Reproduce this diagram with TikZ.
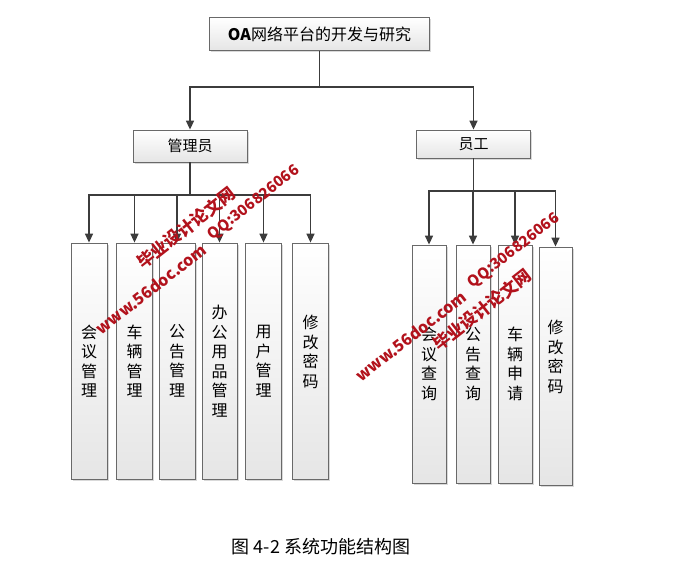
\documentclass[tikz,border=0pt]{standalone}
\usepackage{fontspec}
\setmainfont{Noto Sans CJK SC}
\usetikzlibrary{arrows.meta,positioning,shadows}
\definecolor{linegray}{RGB}{60,60,60}
\definecolor{boxline}{RGB}{105,105,105}
\definecolor{wmred}{RGB}{178,18,28}

\begin{document}
\begin{tikzpicture}[
    x=1pt, y=-1pt,
    box/.style={rectangle, draw=boxline, line width=0.8pt, top color=white, bottom color=gray!20,
        drop shadow={shadow xshift=1.5pt, shadow yshift=-1.5pt, opacity=0.3}, inner sep=0pt},
    headbox/.style={box, minimum width=114pt, font=\fontsize{15}{17}\selectfont},
    colbox/.style={box, minimum width=36pt, minimum height=236pt, text width=17pt, align=center,
        font=\fontsize{16}{19.5}\selectfont},
    line/.style={draw=linegray, line width=1.5pt},
    arrow/.style={line, -{Triangle[width=8pt,length=9pt]}},
    wmtext/.style={text=wmred, font=\bfseries\fontsize{16}{16}\selectfont, rotate=38, inner sep=0pt}
]
\useasboundingbox (0,0) rectangle (675,562);

% top level
\node[box, minimum width=220pt, minimum height=33pt, font=\fontsize{16}{18}\selectfont] (root) at (319.5,34) {\textbf{OA}网络平台的开发与研究};
\node[headbox, minimum height=32pt] (admin) at (190,146) {管理员};
\node[headbox, minimum height=28pt] (staff) at (473.5,144) {员工};

% admin functions
\node[colbox] (a1) at (89,361) {会\\议\\管\\理};
\node[colbox] (a2) at (134.5,361) {车\\辆\\管\\理};
\node[colbox] (a3) at (177,361) {公\\告\\管\\理};
\node[colbox, minimum width=35pt] (a4) at (219.5,361) {办\\公\\用\\品\\管\\理};
\node[colbox] (a5) at (263.5,361) {用\\户\\管\\理};
\node[colbox] (a6) at (310.5,361) {修\\改\\密\\码\\\mbox{}};

% staff functions
\node[colbox, minimum width=34pt, minimum height=238pt] (s1) at (429,364) {会\\议\\查\\询};
\node[colbox, minimum width=34pt, minimum height=238pt] (s2) at (473,364) {公\\告\\查\\询};
\node[colbox, minimum width=34pt, minimum height=238pt] (s3) at (515,364) {车\\辆\\申\\请};
\node[colbox, minimum width=33pt, minimum height=238pt] (s4) at (555.5,366) {修\\改\\密\\码\\\mbox{}};

\coordinate (rootbus) at (319.5,87);
\coordinate (adminbus) at (190,195);
\coordinate (staffbus) at (473.5,191);

\draw[line] (root) -- (rootbus);
\draw[arrow] (rootbus) -| (admin);
\draw[arrow] (rootbus) -| (staff);

\draw[line] (admin) -- (adminbus);
\draw[arrow] (adminbus) -| (a1);
\draw[arrow] (adminbus) -| (a2);
\draw[arrow] (adminbus) -| (a3);
\draw[arrow] (adminbus) -| (a4);
\draw[arrow] (adminbus) -| (a5);
\draw[arrow] (adminbus) -| (a6);

\draw[line] (staff) -- (staffbus);
\draw[arrow] (staffbus) -| (s1);
\draw[arrow] (staffbus) -| (s2);
\draw[arrow] (staffbus) -| (s3);
\draw[arrow] (staffbus) -| (s4);

% watermark
\node[wmtext] (wmurl1) at (151,289) {www.56doc.com};
\node[wmtext, font=\bfseries\fontsize{17}{17}\selectfont] (wmname1) at (186,228) {毕业设计论文网};
\node[wmtext, font=\bfseries\fontsize{15}{15}\selectfont] (wmqq1) at (254,203) {QQ:306826066};
\node[wmtext] (wmurl2) at (411,336) {www.56doc.com};
\node[wmtext, font=\bfseries\fontsize{17}{17}\selectfont] (wmname2) at (482,310) {毕业设计论文网};
\node[wmtext, font=\bfseries\fontsize{15}{15}\selectfont] (wmqq2) at (514,251) {QQ:306826066};

\node[font=\fontsize{18}{20}\selectfont] (caption) at (321,547) {图 4-2 系统功能结构图};
\end{tikzpicture}
\end{document}
